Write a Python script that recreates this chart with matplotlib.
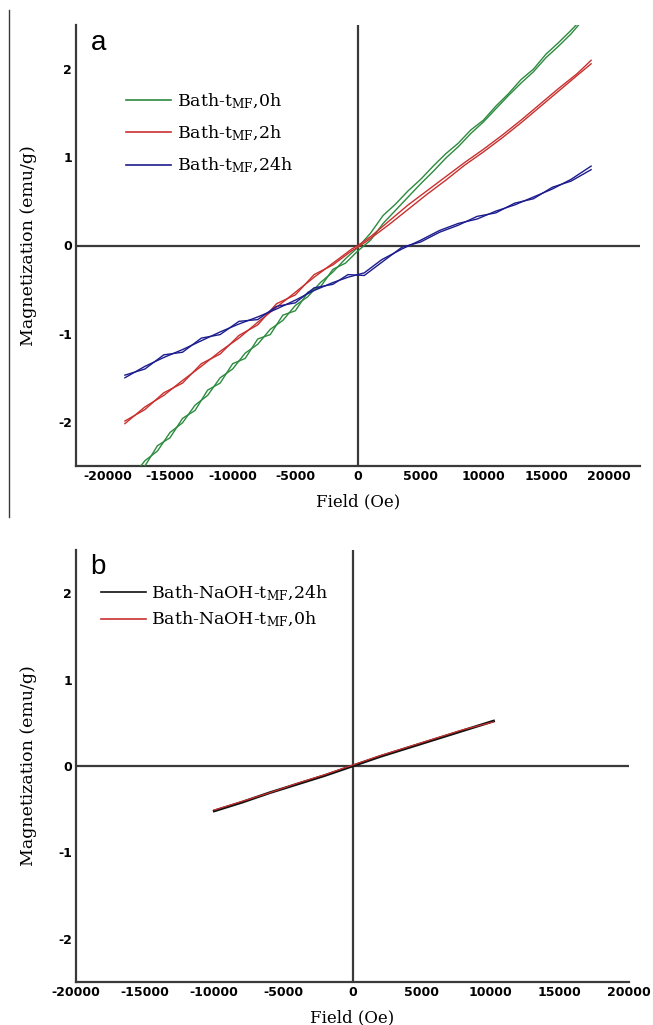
import matplotlib
matplotlib.use('Agg')
import matplotlib.pyplot as plt
from matplotlib.lines import Line2D

plt.rcParams['font.family'] = 'DejaVu Serif'
plt.rcParams['mathtext.default'] = 'regular'

C = {
    'green': '#2c8a3e', 'red': '#c8302e', 'blue': '#1c1c8e',
    'black': '#111111', 'axis': '#3a3a3a',
}

# ---- panel a: Bath-tMF series, two sweep branches each (Oe, emu/g)
green_x = [-18000, -17000, -16000, -15000, -14000, -13000, -12000, -11000,
           -10000, -9000, -8000, -7000, -6000, -5000, -4000, -3000, -2000,
           -1000, 0, 1000, 2000, 3000, 4000, 5000, 6000, 7000, 8000, 9000,
           10000, 11000, 12000, 13000, 14000, 15000, 16000, 17000, 17600]
green_up = [-2.62, -2.44, -2.33, -2.12, -2.01, -1.81, -1.70, -1.50, -1.40,
            -1.22, -1.12, -0.95, -0.85, -0.68, -0.58, -0.42, -0.30, -0.15,
            -0.02, 0.14, 0.34, 0.47, 0.62, 0.75, 0.90, 1.04, 1.16, 1.31,
            1.42, 1.58, 1.72, 1.88, 2.00, 2.17, 2.30, 2.44, 2.53]
green_dn = [-2.58, -2.50, -2.27, -2.18, -1.96, -1.87, -1.64, -1.56, -1.34,
            -1.28, -1.06, -1.01, -0.79, -0.74, -0.53, -0.47, -0.27, -0.20,
            -0.06, 0.06, 0.25, 0.40, 0.55, 0.70, 0.84, 0.99, 1.12, 1.27,
            1.40, 1.55, 1.70, 1.84, 1.97, 2.13, 2.26, 2.40, 2.50]

red_x = [-18600, -17000, -15500, -14000, -12500, -11000, -9500, -8000,
         -6500, -5000, -3500, -2000, -500, 0, 1000, 2500, 4000, 5500, 7000,
         8500, 10000, 11500, 13000, 14500, 16000, 17500, 18600]
red_up = [-2.02, -1.83, -1.70, -1.53, -1.37, -1.20, -1.05, -0.87, -0.70,
          -0.53, -0.36, -0.20, -0.04, 0.00, 0.10, 0.28, 0.46, 0.62, 0.78,
          0.94, 1.09, 1.25, 1.42, 1.60, 1.78, 1.95, 2.10]
red_dn = [-1.99, -1.86, -1.67, -1.56, -1.34, -1.23, -1.02, -0.90, -0.66,
          -0.56, -0.33, -0.22, -0.06, -0.02, 0.08, 0.24, 0.41, 0.58, 0.74,
          0.91, 1.06, 1.22, 1.39, 1.57, 1.75, 1.93, 2.06]

blue_x = [-18600, -17000, -15500, -14000, -12500, -11000, -9500, -8000,
          -6500, -5000, -3500, -2000, -800, 500, 1900, 3500, 5000, 6500,
          8000, 9500, 11000, 12500, 14000, 15500, 17000, 18600]
blue_up = [-1.50, -1.37, -1.27, -1.18, -1.08, -0.98, -0.89, -0.81, -0.72,
           -0.62, -0.51, -0.42, -0.36, -0.31, -0.16, -0.04, 0.06, 0.17,
           0.25, 0.30, 0.39, 0.46, 0.55, 0.64, 0.75, 0.90]
blue_dn = [-1.47, -1.40, -1.24, -1.21, -1.05, -1.01, -0.86, -0.84, -0.69,
           -0.65, -0.48, -0.44, -0.33, -0.34, -0.19, -0.02, 0.04, 0.15,
           0.23, 0.33, 0.37, 0.48, 0.53, 0.66, 0.73, 0.86]

labels_a = ['Bath-t$_{MF}$,0h', 'Bath-t$_{MF}$,2h', 'Bath-t$_{MF}$,24h']

# ---- panel b: Bath-NaOH-tMF series
naoh_x = [-10000, -8000, -6000, -4000, -2000, 0, 2000, 4000, 6000, 8000, 10200]
naoh_24h = [-0.52, -0.42, -0.31, -0.21, -0.11, 0.00, 0.11, 0.21, 0.31, 0.41, 0.52]
naoh_0h = [-0.51, -0.41, -0.31, -0.20, -0.10, 0.01, 0.12, 0.22, 0.32, 0.42, 0.51]
labels_b = ['Bath-NaOH-t$_{MF}$,24h', 'Bath-NaOH-t$_{MF}$,0h']

x_ticks = [-20000, -15000, -10000, -5000, 0, 5000, 10000, 15000, 20000]
y_ticks = [-2, -1, 0, 1, 2]


def _style(ax, xlim, letter):
    ax.set_xlim(*xlim)
    ax.set_ylim(-2.5, 2.5)
    for s in ('top', 'right'):
        ax.spines[s].set_visible(False)
    for s in ('left', 'bottom'):
        ax.spines[s].set_color(C['axis'])
        ax.spines[s].set_linewidth(1.6)
    ax.axhline(0, color=C['axis'], lw=1.6, zorder=1)
    ax.axvline(0, color=C['axis'], lw=1.6, zorder=1)
    ax.set_xticks(x_ticks)
    ax.set_yticks(y_ticks)
    ax.set_xticklabels([str(t) for t in x_ticks])
    ax.set_yticklabels([str(t) for t in y_ticks])
    ax.tick_params(length=0, labelsize=9, pad=3)
    for t in ax.get_xticklabels() + ax.get_yticklabels():
        t.set_family('DejaVu Sans')
        t.set_fontweight('bold')
    ax.set_xlabel('Field (Oe)', fontsize=12, labelpad=7)
    ax.set_ylabel('Magnetization (emu/g)', fontsize=12.5, labelpad=15)
    ax.text(0.04, 0.96, letter, transform=ax.transAxes, fontsize=20,
            family='Liberation Sans', va='center', ha='center')
    ax.set_facecolor('white')


def _loop(ax, x, up, dn, color):
    ax.plot(x, up, color=color, lw=1.0, zorder=3)
    ax.plot(x, dn, color=color, lw=1.0, zorder=3)


fig = plt.figure(figsize=(6.53, 10.25), dpi=100)

ax_a = fig.add_axes([76/653, 1-466/1025, 564/653, 441/1025])
_style(ax_a, (-22500, 22500), 'a')
_loop(ax_a, green_x, green_up, green_dn, C['green'])
_loop(ax_a, red_x, red_up, red_dn, C['red'])
_loop(ax_a, blue_x, blue_up, blue_dn, C['blue'])
handles_a = [Line2D([], [], color=c, lw=1.2) for c in (C['green'], C['red'], C['blue'])]
ax_a.legend(handles_a, labels_a, loc='upper left', bbox_to_anchor=(0.088, 0.85),
            frameon=False, fontsize=12.5, handlelength=2.6, handletextpad=0.35,
            labelspacing=0.75, borderpad=0, borderaxespad=0)

ax_b = fig.add_axes([76/653, 1-982/1025, 553/653, 432/1025])
_style(ax_b, (-20000, 20000), 'b')
ax_b.plot(naoh_x, naoh_24h, color=C['black'], lw=2.0, zorder=3)
ax_b.plot(naoh_x, naoh_0h, color=C['red'], lw=0.9, zorder=4)
handles_b = [Line2D([], [], color=c, lw=1.2) for c in (C['black'], C['red'])]
ax_b.legend(handles_b, labels_b, loc='upper left', bbox_to_anchor=(0.045, 0.922),
            frameon=False, fontsize=12.5, handlelength=2.6, handletextpad=0.3,
            labelspacing=0.4, borderpad=0, borderaxespad=0)

# thin frame rule along the left edge of the upper panel
fig.add_artist(Line2D([9/653, 9/653], [1-10/1025, 1-517/1025], color=C['axis'], lw=1.0))

fig.savefig('out.png', dpi=100, facecolor='white')
